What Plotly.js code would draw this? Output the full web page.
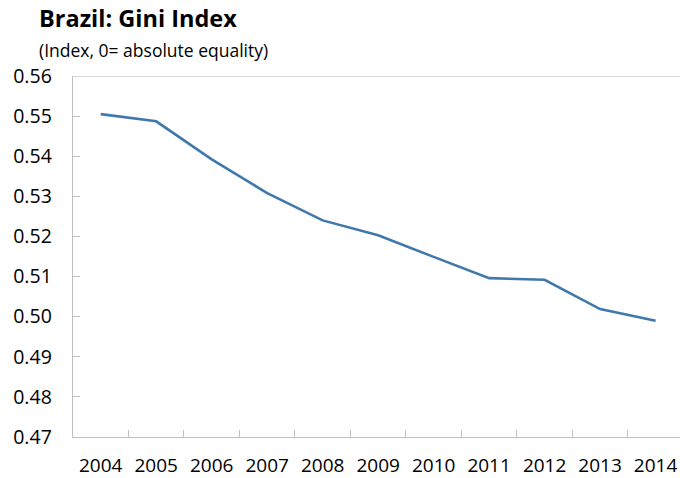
<!DOCTYPE html>
<html><head><meta charset="utf-8">
<script src="https://cdn.plot.ly/plotly-3.0.1.min.js"></script>
<style>html,body{margin:0;padding:0;background:#fff}#chart{width:680px;height:478px}</style>
</head><body><div id="chart"></div>
<script>
var years = ["2004","2005","2006","2007","2008","2009","2010","2011","2012","2013","2014"];
var gini = [0.5505,0.5487,0.5392,0.5308,0.5240,0.5203,0.5149,0.5096,0.5092,0.5019,0.4990];
var yTicks = [0.47,0.48,0.49,0.50,0.51,0.52,0.53,0.54,0.55,0.56];
var yTickText = ["0.47","0.48","0.49","0.50","0.51","0.52","0.53","0.54","0.55","0.56"];
var titleText = "Brazil: Gini Index";
var subtitleText = "(Index, 0= absolute equality)";

var font = "Open Sans, Noto Sans, sans-serif";
var trace = {x: years, y: gini, type: "scatter", mode: "lines",
  line: {color: "#4178ac", width: 2.6}, hoverinfo: "skip"};
var layout = {
  width: 680, height: 478,
  margin: {l: 73, r: 0, t: 76, b: 41},
  paper_bgcolor: "#fff", plot_bgcolor: "#fff",
  showlegend: false,
  font: {family: font, color: "#000"},
  xaxis: {type: "category", range: [-0.5, 10.44], showgrid: false, zeroline: false,
    showline: true, linecolor: "#bfbfbf", linewidth: 1.3,
    ticks: "inside", tickson: "boundaries", ticklen: 7, tickcolor: "#bfbfbf", tickwidth: 1,
    tickfont: {size: 19, family: font}, ticklabelstandoff: 11, fixedrange: true},
  yaxis: {range: [0.47, 0.56], tickvals: yTicks, ticktext: yTickText, showgrid: false, zeroline: false,
    showline: true, linecolor: "#bfbfbf", linewidth: 1.3,
    ticks: "inside", ticklen: 7, tickcolor: "#bfbfbf", tickwidth: 1,
    tickfont: {size: 19.5, family: font}, ticklabelstandoff: 16, fixedrange: true},
  shapes: [{type: "line", xref: "paper", yref: "y", x0: 0, x1: 1, y0: 0.56, y1: 0.56,
    line: {color: "#c8c8c8", width: 1.3}}],
  annotations: [
    {text: "<b>" + titleText + "</b>", xref: "paper", yref: "paper", x: -73/607 + 37/607, y: 1,
     xanchor: "left", yanchor: "bottom", yshift: 40, showarrow: false, font: {size: 23.5, family: font}},
    {text: subtitleText, xref: "paper", yref: "paper", x: -73/607 + 37/607, y: 1,
     xanchor: "left", yanchor: "bottom", yshift: 12, showarrow: false, font: {size: 17.5, family: font}}
  ]
};
Plotly.newPlot("chart", [trace], layout, {staticPlot: true, displayModeBar: false});
</script></body></html>
